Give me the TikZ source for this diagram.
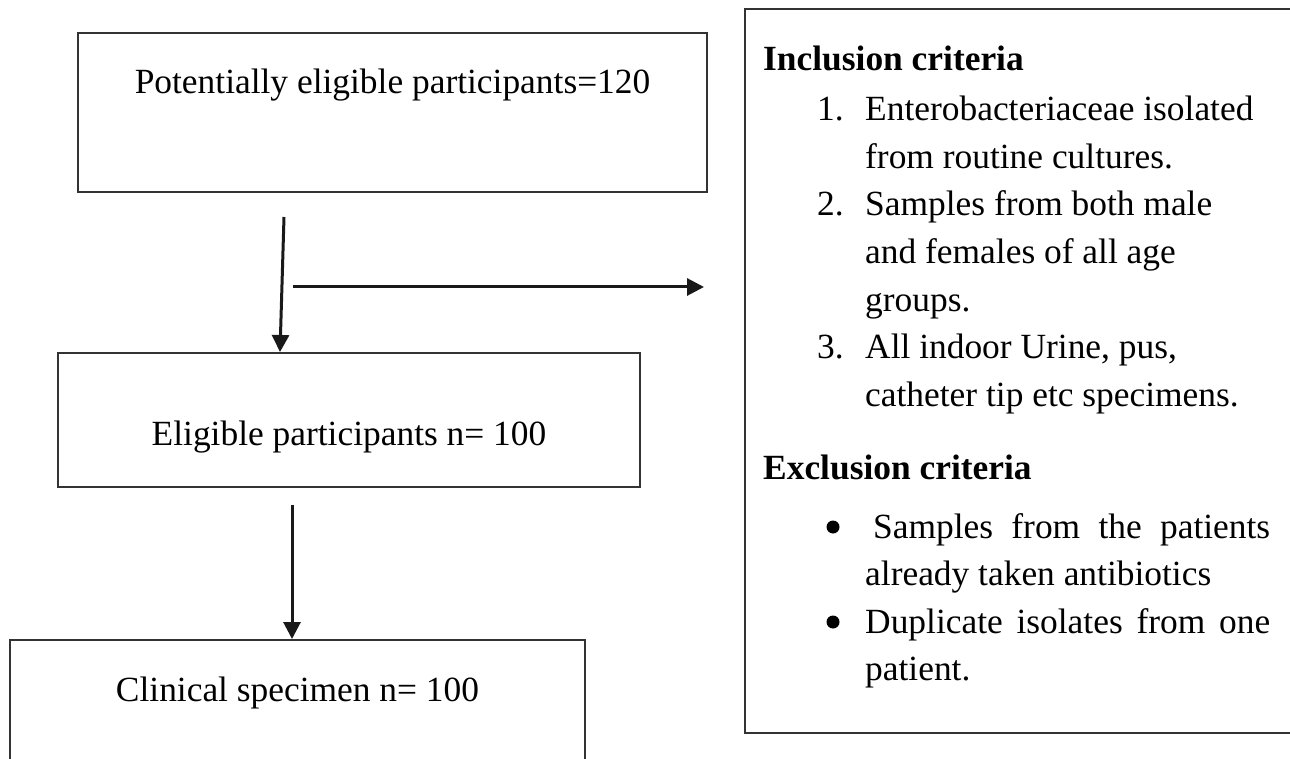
\documentclass[tikz,border=0pt]{standalone}
\usepackage{fontspec}
\setmainfont{Liberation Serif}
\usetikzlibrary{arrows.meta}
\begin{document}
\begin{tikzpicture}[x=1pt,y=-1pt,
  boxline/.style={draw=black!80, line width=2.7pt, inner sep=0pt, fill=none},
  txt/.style={inner sep=0pt, font=\fontsize{35.4}{47}\selectfont},
  bold/.style={inner sep=0pt, font=\fontsize{35.4}{47}\selectfont\bfseries},
  dot/.style={circle, fill=black, inner sep=0pt, minimum size=13pt},
  conn/.style={draw=black!90, line width=3pt, -{Triangle[length=17pt,width=17pt]}}
]
\useasboundingbox (0,0) rectangle (1290,759);
% left boxes
\node[boxline, minimum width=629pt, minimum height=159pt] (b1) at (392.5,112.5) {};
\node[boxline, minimum width=582pt, minimum height=134pt] (b2) at (349,420) {};
\node[boxline, minimum width=575pt, minimum height=170pt] (b3) at (297.5,725) {};
% right box
\node[boxline, minimum width=575pt, minimum height=724pt] (b4) at (1032.5,371) {};
% left texts
\node[txt, anchor=base] (t1) at (392.5,94) {Potentially eligible participants=120};
\node[txt, anchor=base] (t2) at (349,445) {Eligible participants n= 100};
\node[txt, anchor=base] (t3) at (297.5,701) {Clinical specimen n= 100};
% connectors
\coordinate (a1s) at (284,217);
\coordinate (a1e) at (280,352);
\coordinate (a2s) at (293,287);
\coordinate (a2e) at (704,287);
\coordinate (a3s) at (292,505);
\coordinate (a3e) at (292,639);
\draw[conn] (a1s) -- (a1e);
\draw[conn] (a2s) -- (a2e);
\draw[conn] (a3s) -- (a3e);
% right box texts
\node[bold, anchor=base west] (inc) at (763,71) {Inclusion criteria};
\node[txt, anchor=base west] (n1) at (817,121) {1.};
\node[txt, anchor=base west] (i1a) at (865,121) {Enterobacteriaceae isolated};
\node[txt, anchor=base west] (i1b) at (865,168.5) {from routine cultures.};
\node[txt, anchor=base west] (n2) at (817,216) {2.};
\node[txt, anchor=base west] (i2a) at (865,216) {Samples from both male};
\node[txt, anchor=base west] (i2b) at (865,263.5) {and females of all age};
\node[txt, anchor=base west] (i2c) at (865,311) {groups.};
\node[txt, anchor=base west] (n3) at (817,358.5) {3.};
\node[txt, anchor=base west] (i3a) at (865,358.5) {All indoor Urine, pus,};
\node[txt, anchor=base west] (i3b) at (865,406) {catheter tip etc specimens.};
\node[bold, anchor=base west] (exc) at (763,479) {Exclusion criteria};
\node[dot] (bu1) at (833,527) {};
\node[txt, anchor=base west] (e1a) at (873,538) {\makebox[397pt][s]{Samples from the patients}};
\node[txt, anchor=base west] (e1b) at (865,585.5) {already taken antibiotics};
\node[dot] (bu2) at (833,622) {};
\node[txt, anchor=base west] (e2a) at (865,633) {\makebox[405pt][s]{Duplicate isolates from one}};
\node[txt, anchor=base west] (e2b) at (865,680.5) {patient.};
\end{tikzpicture}
\end{document}
